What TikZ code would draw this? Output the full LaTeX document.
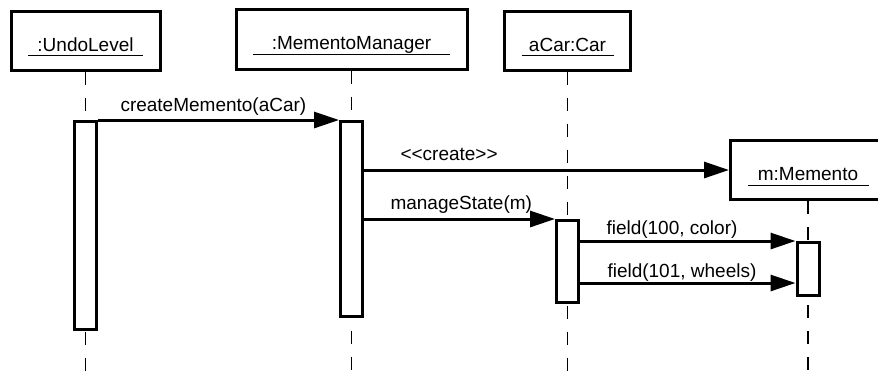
\documentclass[tikz,border=0pt]{standalone}
\usepackage{fontspec}
\setmainfont{Liberation Sans}
\usepackage{tikz}
\usetikzlibrary{calc}
\usetikzlibrary{arrows.meta}

\begin{document}
\begin{tikzpicture}[x=0.5pt, y=0.5pt,
		font=\fontsize{9.5}{11}\selectfont,
		object/.style={draw, line width=1.5pt, inner sep=0pt, minimum height=29.5pt, text height=10.5pt, text depth=0pt,
			path picture={\draw[line width=0.5pt] ([shift={(8.5pt,7.25pt)}]path picture bounding box.south west) -- ([shift={(-8.5pt,7.25pt)}]path picture bounding box.south east);}},
		lifeline/.style={line width=0.75pt, dash pattern=on 6.5pt off 6.5pt},
		activation/.style={draw, fill=white, line width=1.5pt, minimum width=11pt},
		msg/.style={line width=1.5pt, -{Triangle[length=12.5pt, width=8pt]}},
		lbl/.style={anchor=base west, inner sep=0pt}]
				\useasboundingbox (0,0) rectangle (878,372);
				\fill[white] (0,0) rectangle (878,372);
				\clip (0,0) rectangle (878,372);
				\coordinate(bottom) at (0, 0);

				\node[object, minimum width=74.5pt] (undo) at (85.5, 331.5) {:UndoLevel};
				\node[object, minimum width=115.5pt, minimum height=30pt] (manager) at (351.5, 333) {:MementoManager};
				\node[object, minimum width=63pt] (car) at (567.5, 331.5) {aCar:Car};
				\node[object, minimum width=77.5pt] (memento) at (808, 202) {m:Memento};

				\draw[lifeline] (undo.south) -- (undo.south |- bottom);
				\draw[lifeline] (manager.south) -- (manager.south |- bottom);
				\draw[lifeline] (car.south) -- (car.south |- bottom);
				\draw[lifeline] (memento.south) -- (memento.south |- bottom);

				\node[activation, minimum height=104pt] (undoAct) at (85.5, 146.5) {};
				\node[activation, minimum height=97.5pt] (managerAct) at (351.5, 153) {};
				\node[activation, minimum height=40.75pt] (carAct) at (567.5, 110.75) {};
				\node[activation, minimum height=26.5pt] (mementoAct) at (808, 103) {};
				\coordinate(wheels) at ($(mementoAct.south west)+(0, 14)$);

				\draw[msg] (undoAct.north east) -- node[lbl, pos=0, xshift=10.5pt, yshift=4.5pt] {createMemento(aCar)} (undoAct.north east -| managerAct.west);
				\draw[msg] (memento.west -| managerAct.east) -- node[lbl, pos=0, xshift=17.5pt, yshift=5pt] {<{}<create>{}>} (memento.west);
				\draw[msg] (carAct.north west -| managerAct.east) -- node[lbl, pos=0, xshift=12.5pt, yshift=5pt] {manageState(m)} (carAct.north west);
				\draw[msg] (mementoAct.north west -| carAct.east) -- node[lbl, pos=0, xshift=12.5pt, yshift=3.25pt] {field(100, color)} (mementoAct.north west);
				\draw[msg] (wheels -| carAct.east) -- node[lbl, pos=0, xshift=13pt, yshift=2.75pt] {field(101, wheels)} (wheels);

			\end{tikzpicture}
\end{document}
